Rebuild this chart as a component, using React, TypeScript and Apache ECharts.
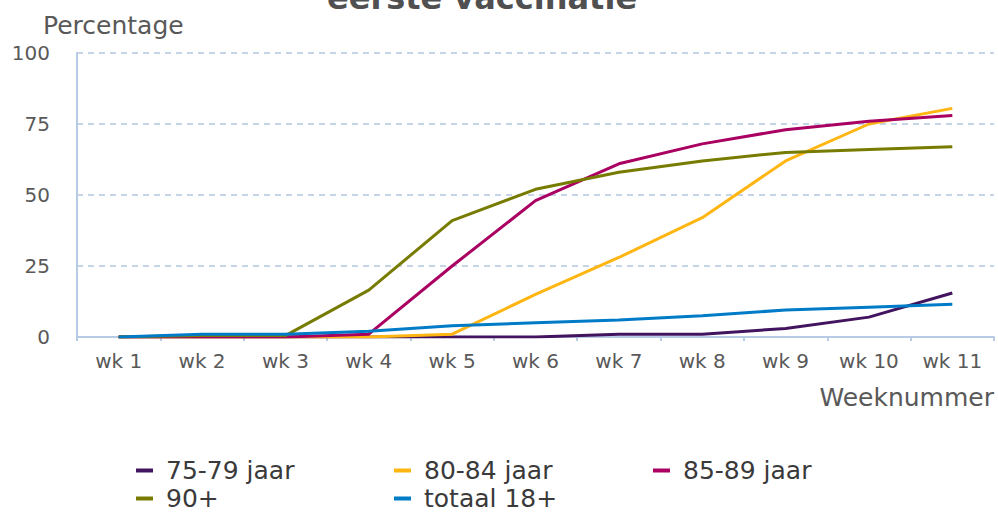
import React, { useEffect, useRef } from "react";
import * as echarts from "echarts";

const categories = ["wk 1", "wk 2", "wk 3", "wk 4", "wk 5", "wk 6", "wk 7", "wk 8", "wk 9", "wk 10", "wk 11"];
const s7579 = [0, 0, 0, 0, 0, 0, 1, 1, 3, 7, 15.5];
const s8084 = [0, 0, 0, 0, 1, 15, 28, 42, 62, 75, 80.5];
const s8589 = [0, 0, 0, 1, 25, 48, 61, 68, 73, 76, 78];
const s90 = [0, 0.5, 0.5, 16.5, 41, 52, 58, 62, 65, 66, 67];
const sTotaal = [0, 1, 1, 2, 4, 5, 6, 7.5, 9.5, 10.5, 11.5];
const yTicks = [0, 25, 50, 75, 100];

const seriesDefs = [
  { name: "75-79 jaar", data: s7579, color: "#42145f" },
  { name: "80-84 jaar", data: s8084, color: "#ffb612" },
  { name: "85-89 jaar", data: s8589, color: "#a90061" },
  { name: "90+", data: s90, color: "#777c00" },
  { name: "totaal 18+", data: sTotaal, color: "#007bc7" },
];

const FONT = "DejaVu Sans";

export default function App() {
  const ref = useRef<HTMLDivElement>(null);
  useEffect(() => {
    if (!ref.current) return;
    const chart = echarts.init(ref.current, null, { renderer: "svg" });
    const legendBase = {
      orient: "vertical",
      top: 458,
      height: 55,
      padding: 0,
      itemGap: 3,
      itemWidth: 17,
      itemHeight: 4,
      icon: "rect",
      textStyle: { fontFamily: FONT, fontSize: 25, color: "#3a3a3a", lineHeight: 25, padding: [0, 0, 0, 8] },
    };
    chart.setOption({
      animation: false,
      backgroundColor: "#ffffff",
      grid: { left: 77, top: 53, right: 4, bottom: 176, containLabel: false },
      legend: [
        { ...legendBase, left: 136, data: ["75-79 jaar", "90+"] },
        { ...legendBase, left: 394, data: ["80-84 jaar", "totaal 18+"] },
        { ...legendBase, left: 653, data: ["85-89 jaar"] },
      ],
      xAxis: {
        type: "category",
        data: categories,
        boundaryGap: true,
        axisLine: { lineStyle: { color: "#b8cbe4", width: 2 } },
        axisTick: { show: true, length: 4, lineStyle: { color: "#b8cbe4", width: 2 } },
        axisLabel: { fontFamily: FONT, fontSize: 20, color: "#595959", margin: 14 },
        splitLine: { show: false },
      },
      yAxis: {
        type: "value",
        min: 0,
        max: 100,
        interval: 25,
        axisLine: { show: true, lineStyle: { color: "#b8cbe4", width: 2 } },
        axisTick: { show: false },
        axisLabel: {
          fontFamily: FONT,
          fontSize: 20,
          color: "#595959",
          margin: 27,
          formatter: (v: number) => (yTicks.includes(v) ? String(v) : ""),
        },
        splitLine: { show: true, lineStyle: { color: "#c6d4e8", type: [6, 5], width: 2 } },
      },
      graphic: [
        {
          type: "text",
          left: 492 - 165,
          top: -18,
          style: { text: "eerste vaccinatie", fontFamily: FONT, fontWeight: "bold", fontSize: 32, fill: "#505050" },
        },
        {
          type: "text",
          x: 43,
          y: 25,
          style: { text: "Percentage", fontFamily: FONT, fontSize: 25, fill: "#595959", align: "left", verticalAlign: "middle" },
        },
        {
          type: "text",
          x: 994,
          y: 397,
          style: { text: "Weeknummer", fontFamily: FONT, fontSize: 25, fill: "#595959", align: "right", verticalAlign: "middle" },
        },
      ],
      series: seriesDefs.map((s) => ({
        name: s.name,
        type: "line",
        data: s.data,
        showSymbol: false,
        symbol: "none",
        lineStyle: { color: s.color, width: 3 },
        itemStyle: { color: s.color },
        z: 3,
      })),
    });
    return () => chart.dispose();
  }, []);
  return <div ref={ref} style={{ width: 998, height: 513, position: "absolute", left: 0, top: 0 }} />;
}
